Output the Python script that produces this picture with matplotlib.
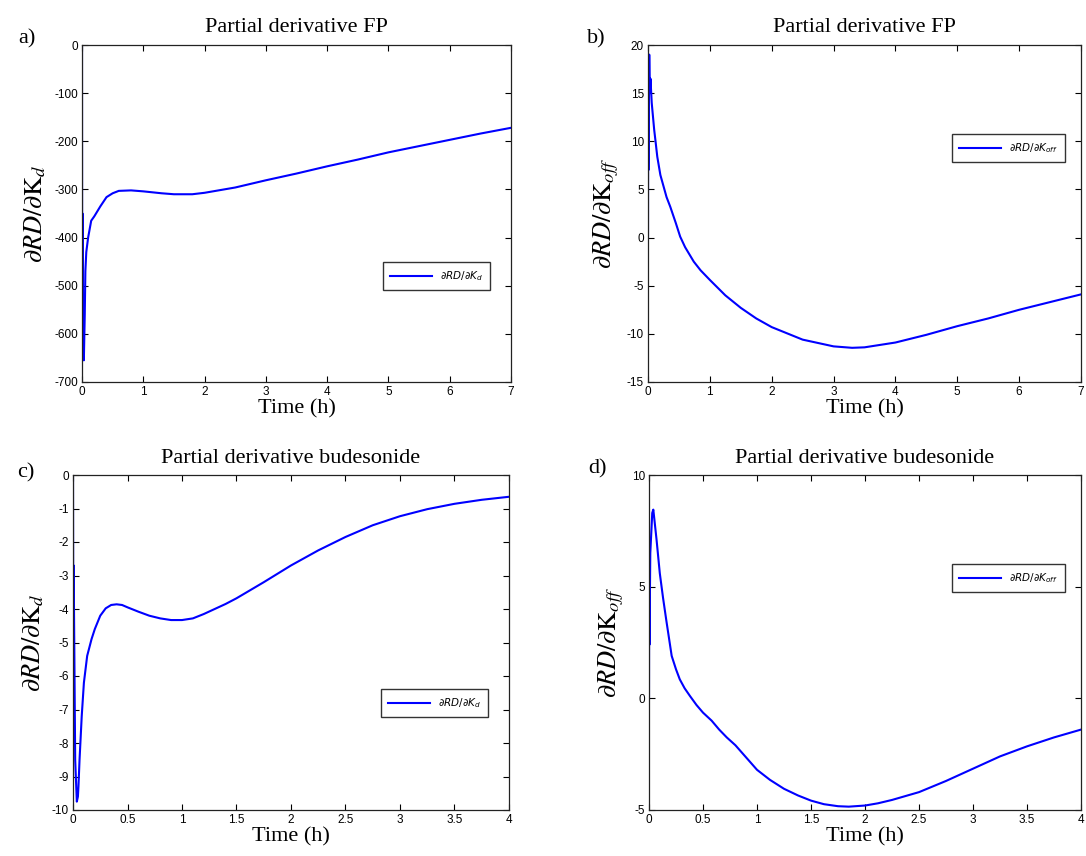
import matplotlib
matplotlib.use("Agg")
import matplotlib.pyplot as plt
from matplotlib.font_manager import FontProperties
import numpy as np

# ---------------- data ----------------
# a) FP, dRD/dKd
t_a = [0, 0.003, 0.008, 0.015, 0.03, 0.045, 0.055, 0.07, 0.1, 0.15, 0.2, 0.3, 0.4, 0.5, 0.6,
       0.8, 1.0, 1.3, 1.5, 1.8, 2.0, 2.5, 3.0, 3.5, 4.0, 4.5, 5.0, 5.5, 6.0, 6.5, 7.0]
y_a = [0, -655, -350, -645, -655, -560, -470, -430, -400, -365, -356, -335, -316, -308, -303,
       -302, -304, -308, -310, -310, -307, -296, -281, -267, -252, -238, -223, -210, -197, -184, -172]

# b) FP, dRD/dKoff
t_b = [0, 0.003, 0.006, 0.02, 0.03, 0.04, 0.06, 0.1, 0.12, 0.15, 0.2, 0.3, 0.36, 0.45, 0.52, 0.6,
       0.74, 0.85, 1.0, 1.25, 1.5, 1.75, 2.0, 2.5, 3.0, 3.3, 3.5, 4.0, 4.5, 5.0, 5.5, 6.0, 6.5, 7.0]
y_b = [0, 17, 7, 19, 15, 16.5, 14, 11.2, 10.1, 8.4, 6.5, 4.2, 3.2, 1.5, 0.1, -1.0,
       -2.5, -3.4, -4.4, -6.0, -7.3, -8.4, -9.3, -10.6, -11.3, -11.45, -11.4, -10.9, -10.1, -9.2, -8.4, -7.5, -6.7, -5.9]

# c) budesonide, dRD/dKd
t_c = [0, 0.004, 0.006, 0.02, 0.035, 0.045, 0.05, 0.06, 0.08, 0.1, 0.13, 0.17, 0.2, 0.25, 0.3, 0.35,
       0.4, 0.45, 0.5, 0.6, 0.7, 0.8, 0.9, 1.0, 1.1, 1.2, 1.3, 1.4, 1.5, 1.75, 2.0, 2.25, 2.5,
       2.75, 3.0, 3.25, 3.5, 3.75, 4.0]
y_c = [0, -7.4, -2.7, -8.5, -9.75, -9.6, -9.3, -8.5, -7.2, -6.2, -5.4, -4.9, -4.6, -4.2, -3.98, -3.88,
       -3.86, -3.88, -3.95, -4.08, -4.2, -4.28, -4.33, -4.33, -4.28, -4.15, -4.0, -3.85, -3.68, -3.2, -2.7, -2.25, -1.85,
       -1.5, -1.23, -1.02, -0.86, -0.74, -0.65]

# d) budesonide, dRD/dKoff
t_d = [0, 0.002, 0.004, 0.012, 0.03, 0.04, 0.05, 0.07, 0.1, 0.13, 0.16, 0.21, 0.25, 0.285, 0.33, 0.38,
       0.44, 0.5, 0.58, 0.65, 0.72, 0.8, 0.9, 1.0, 1.12, 1.25, 1.38, 1.5, 1.62, 1.75, 1.85, 2.0,
       2.12, 2.25, 2.5, 2.75, 3.0, 3.25, 3.5, 3.75, 4.0]
y_d = [0, 6.6, 2.4, 6.5, 8.3, 8.45, 8.0, 7.1, 5.6, 4.5, 3.5, 1.9, 1.3, 0.85, 0.45, 0.1,
       -0.3, -0.64, -1.0, -1.4, -1.75, -2.1, -2.65, -3.2, -3.65, -4.05, -4.35, -4.58, -4.74, -4.83, -4.85, -4.8,
       -4.7, -4.55, -4.2, -3.7, -3.15, -2.6, -2.15, -1.75, -1.4]

titles = ["Partial derivative FP", "Partial derivative FP",
          "Partial derivative budesonide", "Partial derivative budesonide"]
panel_labels = ["a)", "b)", "c)", "d)"]
ylabels = [r"$\partial RD/\partial\mathrm{K}_{d}$", r"$\partial RD/\partial\mathrm{K}_{off}$",
           r"$\partial RD/\partial\mathrm{K}_{d}$", r"$\partial RD/\partial\mathrm{K}_{off}$"]
legend_labels = [r"$\partial RD/\partial K_{d}$", r"$\partial RD/\partial K_{off}$",
                 r"$\partial RD/\partial K_{d}$", r"$\partial RD/\partial K_{off}$"]
xlims = [(0, 7), (0, 7), (0, 4), (0, 4)]
ylims = [(-700, 0), (-15, 20), (-10, 0), (-5, 10)]
xticks = [np.arange(0, 8, 1), np.arange(0, 8, 1), np.arange(0, 4.5, 0.5), np.arange(0, 4.5, 0.5)]
yticks = [np.arange(-700, 1, 100), np.arange(-15, 21, 5), np.arange(-10, 1, 1), np.arange(-5, 11, 5)]

# ---------------- layout ----------------
W, H = 1086, 856
fig = plt.figure(figsize=(W / 100, H / 100), dpi=100)
plt.rcParams["mathtext.fontset"] = "stix"

def px_rect(l, r, t, b):
    return [l / W, 1 - b / H, (r - l) / W, (b - t) / H]

rects = [px_rect(82, 511, 45, 382), px_rect(648, 1081, 45, 382),
         px_rect(73, 509, 475, 810), px_rect(649, 1081, 475, 810)]
leg_anchor = [(383, 262), (952, 134), (381, 689), (952, 564)]
lbl_pos = [(18, 43), (587, 43), (17, 477), (588, 473)]

serif = "Liberation Serif"
sans = "Liberation Sans"
series = [(t_a, y_a), (t_b, y_b), (t_c, y_c), (t_d, y_d)]

for i in range(4):
    ax = fig.add_axes(rects[i])
    t, y = series[i]
    ax.plot(t, y, color="#0000ff", lw=1.5, label=legend_labels[i])
    ax.set_xlim(*xlims[i])
    ax.set_ylim(*ylims[i])
    ax.set_xticks(xticks[i])
    ax.set_yticks(yticks[i])
    ax.set_xticklabels([f"{v:g}" for v in xticks[i]], fontfamily=sans, fontsize=8.5)
    ax.set_yticklabels([f"{v:g}" for v in yticks[i]], fontfamily=sans, fontsize=8.5)
    ax.tick_params(direction="in", length=4, width=0.8, top=True, right=True, pad=3)
    for s in ax.spines.values():
        s.set_linewidth(0.9)
        s.set_color("#222222")
    ax.set_title(titles[i], fontfamily=serif, fontsize=16, pad=9)
    ax.set_xlabel("Time (h)", fontfamily=serif, fontsize=16, labelpad=1)
    ax.set_ylabel(ylabels[i], fontsize=19, labelpad=4)
    fp = FontProperties(family=sans, style="italic", size=7.5, math_fontfamily="dejavusans")
    ax.legend(loc="upper left", bbox_to_anchor=(leg_anchor[i][0] / W, 1 - leg_anchor[i][1] / H),
              bbox_transform=fig.transFigure, borderaxespad=0, prop=fp, handlelength=4,
              fancybox=False, edgecolor="#333333", framealpha=1, borderpad=0.7, handletextpad=0.8)
    fig.text(lbl_pos[i][0] / W, 1 - lbl_pos[i][1] / H, panel_labels[i], fontfamily=serif,
             fontsize=16, ha="left", va="baseline")

fig.savefig("out.png", dpi=100)
